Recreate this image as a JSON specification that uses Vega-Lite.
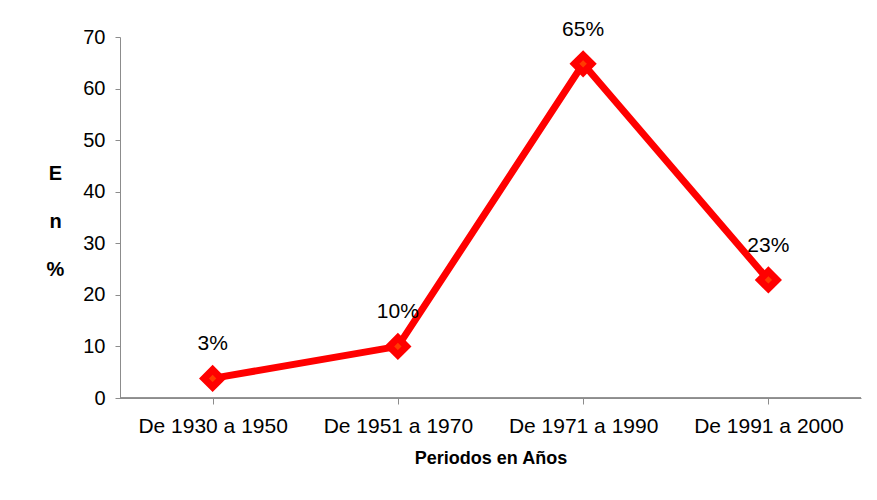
{
  "$schema": "https://vega.github.io/schema/vega-lite/v6.json",
  "autosize": "none",
  "width": 741,
  "height": 361,
  "padding": {"left": 120, "top": 37, "right": 16, "bottom": 102},
  "background": "white",
  "config": {
    "view": {"stroke": null},
    "font": "Liberation Sans",
    "axis": {"grid": false, "domainColor": "#8c8c8c", "tickColor": "#8c8c8c", "labelColor": "#000", "titleColor": "#000", "labelFont": "Liberation Sans", "titleFont": "Liberation Sans"}
  },
  "data": {
    "values": [
      {"periodo": "De 1930 a 1950", "valor": 3.8, "etiqueta": "3%"},
      {"periodo": "De 1951 a 1970", "valor": 10.0, "etiqueta": "10%"},
      {"periodo": "De 1971 a 1990", "valor": 64.8, "etiqueta": "65%"},
      {"periodo": "De 1991 a 2000", "valor": 22.9, "etiqueta": "23%"}
    ]
  },
  "encoding": {
    "x": {
      "field": "periodo", "type": "nominal", "sort": null,
      "scale": {"type": "point", "padding": 0.5},
      "axis": {
        "title": "Periodos en Años", "labelAngle": 0, "labelFontSize": 21, "labelPadding": 11,
        "titleFont": "Liberation Sans", "titleFontSize": 18, "titleFontWeight": "bold", "titlePadding": 13,
        "tickSize": 6
      }
    },
    "y": {
      "field": "valor", "type": "quantitative",
      "scale": {"domain": [0, 70]},
      "axis": {
        "values": [0, 10, 20, 30, 40, 50, 60, 70], "labelFontSize": 20, "labelPadding": 10, "tickSize": 5,
        "title": ["E", "n", "%"], "titleAngle": 0, "titleFontSize": 20, "titleFontWeight": "bold",
        "titleLineHeight": 48, "titleX": -65, "titleY": 136, "titleAlign": "center", "titleBaseline": "middle"
      }
    }
  },
  "layer": [
    {"mark": {"type": "rule", "color": "#8c8c8c"}, "encoding": {"x": null, "y": {"datum": 0}}},
    {"mark": {"type": "line", "color": "#ff0000", "strokeWidth": 7}},
    {"mark": {"type": "point", "shape": "diamond", "filled": true, "fill": "#ff3c00", "stroke": "#ff0000", "strokeWidth": 7, "size": 300, "opacity": 1}},
    {"mark": {"type": "text", "dy": -34, "fontSize": 21, "color": "#000"}, "encoding": {"text": {"field": "etiqueta"}}}
  ]
}
